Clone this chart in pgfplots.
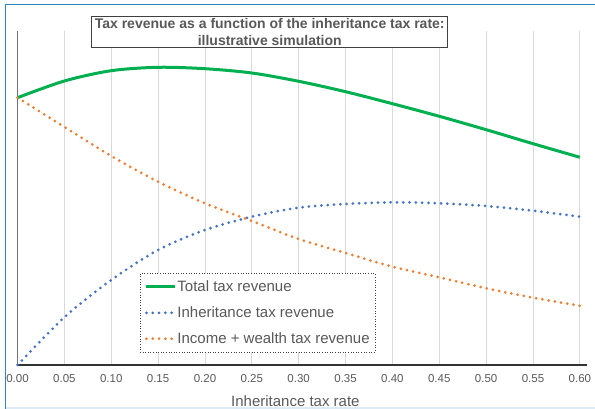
\documentclass[border=0pt]{standalone}
\usepackage{pgfplots}
\pgfplotsset{compat=1.18}
\usepackage{fontspec}
\setmainfont{Liberation Sans}

\definecolor{totalgreen}{HTML}{00B050}
\definecolor{inhblue}{HTML}{4472C4}
\definecolor{incorange}{HTML}{ED7D31}
\definecolor{txtgray}{HTML}{595959}
\definecolor{gridgray}{HTML}{D9D9D9}
\definecolor{framebl}{HTML}{2F86BC}
\definecolor{framelt}{HTML}{DDEBF7}

% Revenue by inheritance tax rate (arbitrary units)
\pgfplotstableread{
rate  total  inheritance  income
0.00  267.3  0.0    267.3
0.05  284.0  47.7   238.0
0.10  294.3  85.0   209.0
0.15  297.7  115.0  183.3
0.20  296.3  135.0  161.7
0.25  292.0  148.3  144.0
0.30  283.7  157.3  126.0
0.35  273.3  161.0  112.0
0.40  261.3  162.7  98.3
0.45  248.7  161.7  87.7
0.50  235.3  159.0  76.7
0.55  221.3  154.3  67.3
0.60  207.7  148.3  59.3
}\revenue

\tikzset{dotline/.style={line width=3pt, line cap=round, dash pattern=on 0pt off 6.3pt}}

\begin{document}
\begin{tikzpicture}[x=1pt,y=1pt]
\useasboundingbox (0,0) rectangle (595,409);
% chart frame
\draw[framelt, line width=1.2pt] (5.5,1) -- (600,1);
\draw[framebl, line width=1.4pt] (5.5,0) -- (5.5,404.3) -- (600,404.3);

\begin{axis}[
  at={(17.5pt,44pt)}, anchor=south west,
  scale only axis, width=569.4pt, height=334pt,
  xmin=0, xmax=0.6075, ymin=0, ymax=334,
  axis x line=bottom, axis y line=left,
  x axis line style={-, draw=black!80, line width=1.2pt},
  y axis line style={-, draw=black!55, line width=1.2pt},
  xtick={0,0.05,...,0.6001}, ytick=\empty,
  major tick length=0pt,
  xmajorgrids, grid style={gridgray, line width=0.9pt},
  /pgf/number format/fixed, /pgf/number format/fixed zerofill,
  /pgf/number format/precision=2, /pgf/number format/assume math mode=true,
  xticklabel style={font=\fontsize{11.5}{13}\selectfont, text=txtgray, yshift=-6pt},
  xlabel={Inheritance tax rate},
  xlabel style={font=\fontsize{15}{17}\selectfont, text=txtgray, at={(0.488,0)}, anchor=base, yshift=-42pt},
  title={Tax revenue as a function of the inheritance tax rate:\\illustrative simulation},
  title style={at={(0.443,1.0)}, anchor=center, yshift=-7pt, draw=black!75, line width=0.9pt, fill=white,
    align=center, font=\fontsize{14}{17}\selectfont\bfseries, text=txtgray, inner xsep=3pt, inner ysep=1.5pt},
  legend style={at={(0.2145,0.274)}, anchor=north west, draw=black!75, dotted, line width=0.6pt,
    font=\fontsize{15}{17}\selectfont, text=txtgray, inner xsep=5pt, inner ysep=6.5pt,
    row sep=12.5pt, nodes={inner sep=0.5pt, solid}},
  legend cell align=left,
  legend image code/.code={\draw[#1] (0pt,0pt) -- (29pt,0pt);},
  clip=false,
]
\addplot[totalgreen, line width=3pt, smooth] table[x=rate, y=total] {\revenue};
\addlegendentry{Total tax revenue}
\addplot[inhblue, dotline, smooth] table[x=rate, y=inheritance] {\revenue};
\addlegendentry{Inheritance tax revenue}
\addplot[incorange, dotline, smooth] table[x=rate, y=income] {\revenue};
\addlegendentry{Income + wealth tax revenue}
\end{axis}
\end{tikzpicture}
\end{document}
